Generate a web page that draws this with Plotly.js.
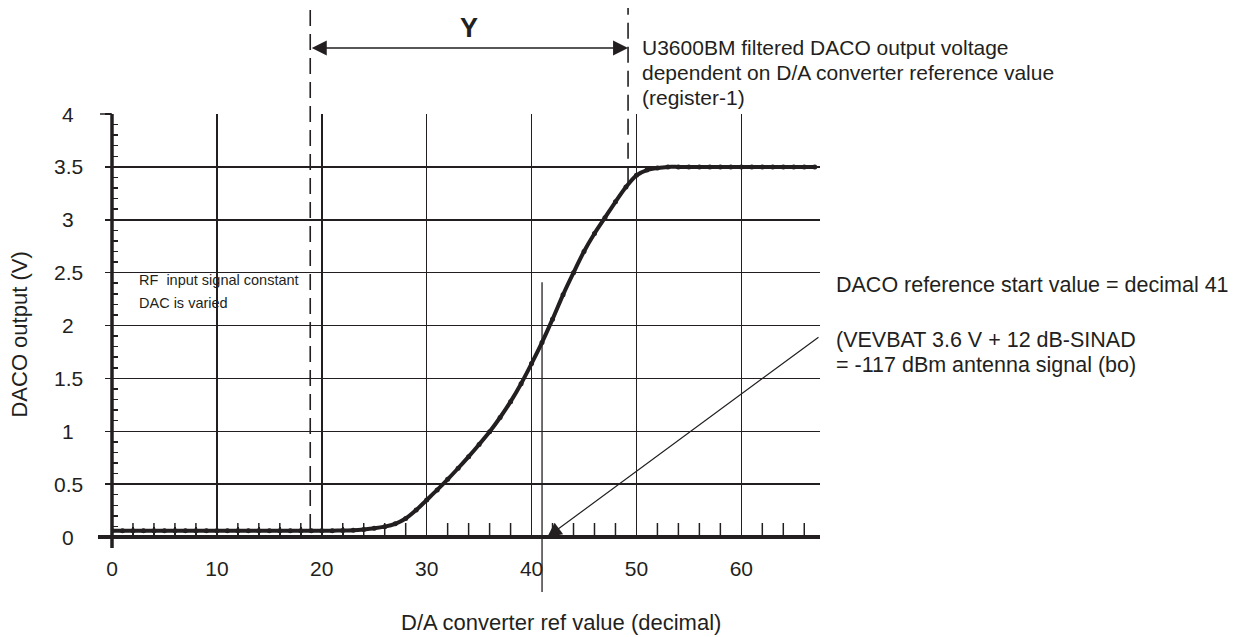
<!DOCTYPE html>
<html>
<head>
<meta charset="utf-8">
<script src="https://cdn.plot.ly/plotly-3.0.1.min.js"></script>
<style>html,body{margin:0;padding:0;background:#fff;}#chart{width:1257px;height:637px;}</style>
</head>
<body>
<div id="chart"></div>
<script>
// DAC reference value (decimal)
var dacValues = [0,1,2,3,4,5,6,7,8,9,10,11,12,13,14,15,16,17,18,19,20,
  21,22,23,24,25,26,27,28,29,30,31,32,33,34,35,36,37,38,39,40,
  41,42,43,44,45,46,47,48,49,50,51,52,53,54,55,56,57,58,59,60,
  61,62,63,64,65,66,67];
// Filtered DACO output voltage (V)
var dacoOutput = [0.06,0.06,0.06,0.06,0.06,0.06,0.06,0.06,0.06,0.06,0.06,0.06,0.06,0.06,0.06,0.06,0.06,0.06,0.06,0.06,0.06,
  0.06,0.062,0.065,0.072,0.082,0.098,0.125,0.175,0.255,0.35,0.445,0.545,0.65,0.76,0.875,0.995,1.13,1.28,1.45,1.64,
  1.84,2.06,2.29,2.50,2.70,2.87,3.02,3.17,3.31,3.42,3.47,3.49,3.50,3.50,3.50,3.50,3.50,3.50,3.50,3.50,
  3.50,3.50,3.50,3.50,3.50,3.50,3.50];

var xTickStep = 10;
var xMinorStep = 2;
var xMinorTicks = [2,4,6,8,12,14,16,18,22,24,26,28,32,34,36,38,42,44,46,48,52,54,56,58,62,64,66];
var xMinorBase = [0,0,0,0,0,0,0,0,0,0,0,0,0,0,0,0,0,0,0,0,0,0,0,0,0,0,0];
var yTickVals = [0,0.5,1,1.5,2,2.5,3,3.5,4];
var yTickText = ['0','0.5','1','1.5','2','2.5','3','3.5','4'];
var yMinorTicks = [0.1,0.2,0.3,0.4,0.6,0.7,0.8,0.9,1.1,1.2,1.3,1.4,1.6,1.7,1.8,1.9,
  2.1,2.2,2.3,2.4,2.6,2.7,2.8,2.9,3.1,3.2,3.3,3.4,3.6,3.7,3.8,3.9];

var windowStart = 18.9;   // left dashed marker (Y window)
var windowEnd = 49.2;     // right dashed marker
var windowStartLevel = 0.066;
var windowEndLevel = 3.35;
var refStart = 41;        // DACO reference start value
var refLineTop = 2.41;
var arrowTail = [67.5, 1.9];
var arrowTip = [41.5, 0];

var titleText = ['U3600BM filtered DACO output voltage',
                 'dependent on D/A converter reference value',
                 '(register-1)'];
var noteText = ['RF  input signal constant', 'DAC is varied'];
var rightText = ['DACO reference start value = decimal 41',
                 '(VEVBAT 3.6 V + 12 dB-SINAD',
                 '= -117 dBm antenna signal (bo)'];

var INK = '#231f20';
var FONT = 'Liberation Sans, Arial, Helvetica, sans-serif';
var yMax = 4;

// minor tick marks on the x axis (upper half shown; lower half clipped by the plot area)
var minorTickTrace = {
  x: xMinorTicks, y: xMinorBase,
  type: 'scatter', mode: 'markers',
  marker: {symbol: 'line-ns', size: 20, color: INK, line: {color: INK, width: 1.5}},
  hoverinfo: 'skip', showlegend: false, cliponaxis: true
};

var trace = {
  x: dacValues, y: dacoOutput,
  type: 'scatter', mode: 'lines+markers',
  line: {color: INK, width: 4, shape: 'spline', smoothing: 0.8},
  marker: {color: INK, size: 5},
  hoverinfo: 'skip', showlegend: false
};

var ann = [];
for (var i = 0; i < yTickVals.length; i++) {
  ann.push({xref: 'paper', yref: 'y', x: -0.0621, y: yTickVals[i], text: yTickText[i],
    showarrow: false, xanchor: 'center', yanchor: 'middle',
    font: {family: FONT, size: 21, color: INK}});
}
ann.push({xref: 'paper', yref: 'paper', x: 0.634, y: -0.201, text: 'D/A converter ref value (decimal)',
  showarrow: false, xanchor: 'center', yanchor: 'middle', font: {family: FONT, size: 22, color: INK}});
ann.push({xref: 'paper', yref: 'paper', x: -0.132, y: 0.4775, text: 'DACO output (V)', textangle: -90,
  showarrow: false, xanchor: 'center', yanchor: 'middle', font: {family: FONT, size: 22, color: INK}});
var titleY = [47, 72, 98];
for (var j = 0; j < titleText.length; j++) {
  ann.push({xref: 'paper', yref: 'paper', x: (640 - 112) / 708, y: (537 - titleY[j]) / 423, text: titleText[j],
    showarrow: false, xanchor: 'left', yanchor: 'middle', font: {family: FONT, size: 21, color: INK}});
}
var noteY = [280, 303];
for (var k = 0; k < noteText.length; k++) {
  ann.push({xref: 'paper', yref: 'paper', x: (137 - 112) / 708, y: (537 - noteY[k]) / 423, text: noteText[k],
    showarrow: false, xanchor: 'left', yanchor: 'middle', font: {family: FONT, size: 14.5, color: INK}});
}
var rightY = [285, 340, 365];
for (var m = 0; m < rightText.length; m++) {
  ann.push({xref: 'paper', yref: 'paper', x: (834 - 112) / 708, y: (537 - rightY[m]) / 423, text: rightText[m],
    showarrow: false, xanchor: 'left', yanchor: 'middle', font: {family: FONT, size: 21.5, color: INK}});
}
ann.push({xref: 'x', yref: 'paper', x: (windowStart + windowEnd) / 2, y: (537 - 28) / 423, text: '<b>Y</b>',
  showarrow: false, xanchor: 'center', yanchor: 'middle', font: {family: FONT, size: 27, color: INK}});
ann.push({xref: 'x', yref: 'paper', x: windowEnd, y: (537 - 48) / 423, axref: 'x', ax: windowStart, ayref: 'pixel', ay: 0,
  text: '', showarrow: true, arrowhead: 2, startarrowhead: 2, arrowside: 'end+start', arrowsize: 2, startarrowsize: 2,
  arrowwidth: 1.5, arrowcolor: INK, standoff: 0, startstandoff: 0});
ann.push({xref: 'x', yref: 'y', x: arrowTip[0], y: arrowTip[1], axref: 'x', ax: arrowTail[0], ayref: 'y', ay: arrowTail[1],
  text: '', showarrow: true, arrowhead: 2, arrowsize: 2.4, arrowwidth: 1.2, arrowcolor: INK, standoff: 0});

var shapes = [
  {type: 'line', xref: 'paper', yref: 'paper', x0: -0.0198, x1: 1, y0: 0, y1: 0, line: {color: INK, width: 4}, layer: 'above'},
  {type: 'line', xref: 'paper', yref: 'paper', x0: 0, x1: 0, y0: -0.026, y1: 1, line: {color: INK, width: 3.5}, layer: 'above'},
  {type: 'line', xref: 'paper', yref: 'paper', x0: -0.017, x1: 0, y0: 1, y1: 1, line: {color: INK, width: 1.5}},
  {type: 'line', xref: 'x', yref: 'paper', x0: windowStart, x1: windowStart, y0: windowStartLevel / yMax, y1: 1.2506,
    line: {color: INK, width: 1.6, dash: '16px,8px'}},
  {type: 'line', xref: 'x', yref: 'paper', x0: windowEnd, x1: windowEnd, y0: windowEndLevel / yMax, y1: 1.2506,
    line: {color: INK, width: 1.6, dash: '16px,8px'}},
  {type: 'line', xref: 'x', yref: 'paper', x0: refStart, x1: refStart, y0: -0.13, y1: refLineTop / yMax,
    line: {color: INK, width: 1.3}}
];

var layout = {
  width: 1257, height: 637,
  margin: {l: 112, r: 437, t: 114, b: 100, pad: 0},
  font: {family: FONT, size: 21, color: INK},
  showlegend: false,
  xaxis: {
    range: [0, 67.5], tickmode: 'linear', tick0: 0, dtick: xTickStep,
    showgrid: true, gridcolor: INK, gridwidth: 1.5,
    zeroline: false, showline: false,
    ticks: 'inside', ticklen: 10, tickwidth: 1.5, tickcolor: INK,
    ticklabelstandoff: 17,
    tickfont: {family: FONT, size: 21, color: INK},
    minor: {tick0: 0, dtick: xMinorStep, ticks: 'inside', ticklen: 10, tickwidth: 1.5, tickcolor: INK, showgrid: false}
  },
  yaxis: {
    range: [0, 4], tickmode: 'array', tickvals: yTickVals, showticklabels: false,
    showgrid: true, gridcolor: INK, gridwidth: 1.5,
    zeroline: false, showline: false,
    ticks: 'outside', ticklen: 6, tickwidth: 1.5, tickcolor: INK,
    minor: {tickmode: 'array', tickvals: yMinorTicks, ticks: 'inside', ticklen: 6, tickwidth: 1.5, tickcolor: INK, showgrid: false}
  },
  annotations: ann,
  shapes: shapes
};

Plotly.newPlot('chart', [minorTickTrace, trace], layout, {displayModeBar: false, staticPlot: true});
</script>
</body>
</html>
